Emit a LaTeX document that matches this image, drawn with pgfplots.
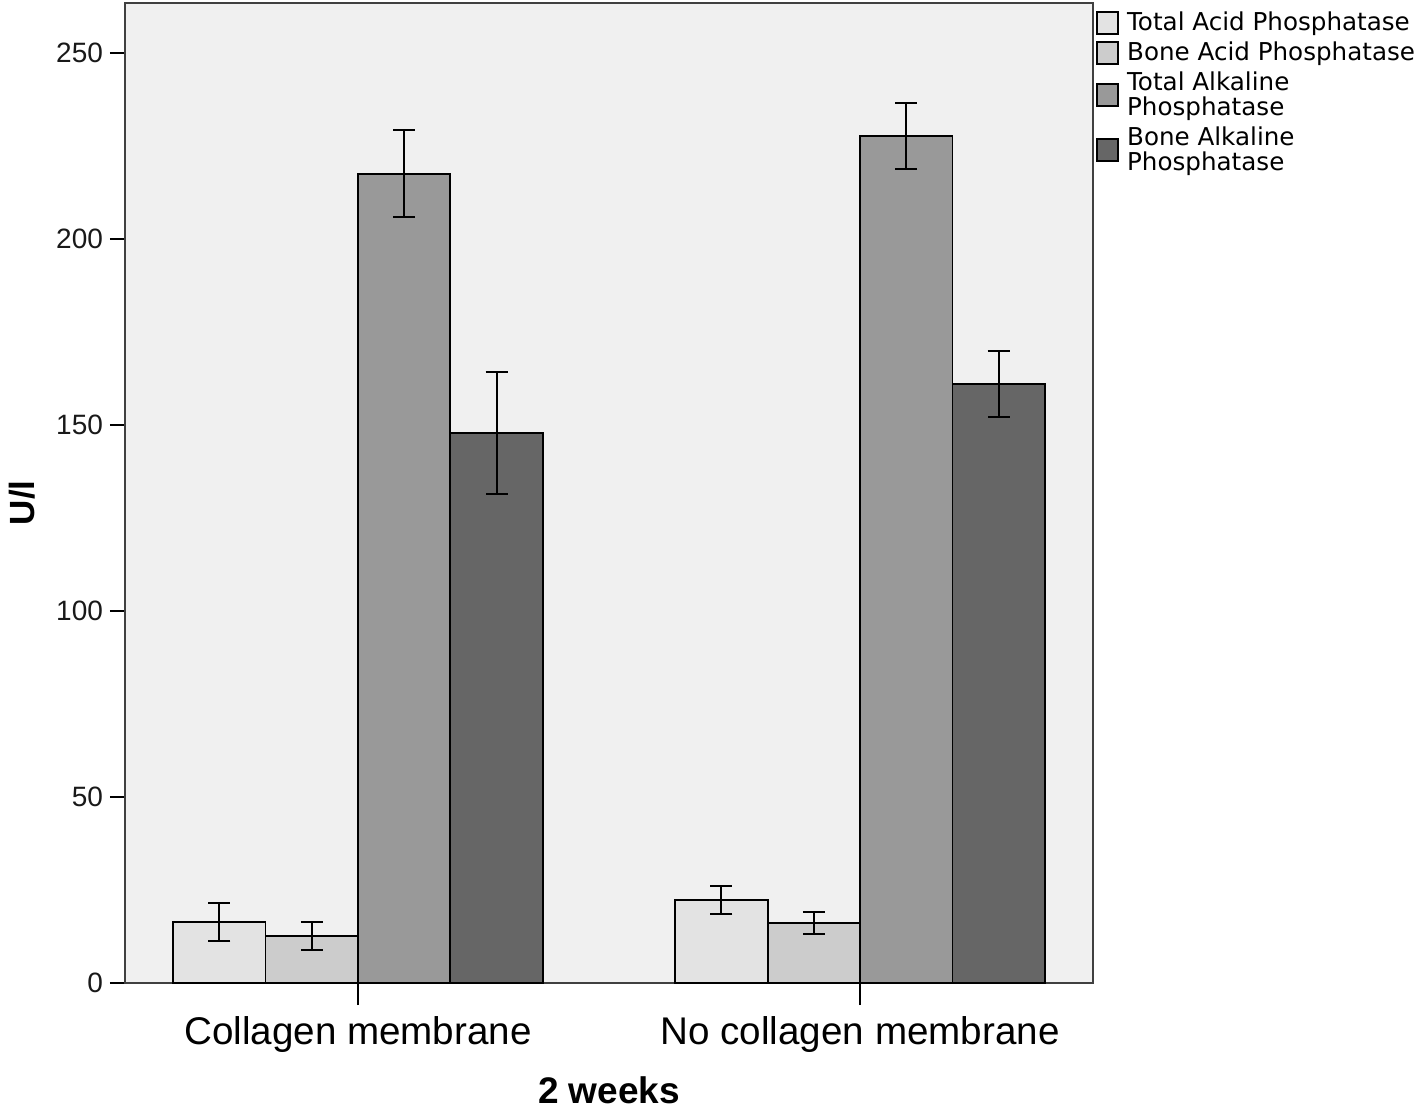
\documentclass[border=0pt]{standalone}
\usepackage{pgfplots}
\pgfplotsset{compat=1.18}
\usepackage{fontspec}
\setmainfont{Liberation Sans}
\newfontfamily\dejavu{DejaVu Sans}
\definecolor{bgc}{HTML}{F0F0F0}
\definecolor{cA}{HTML}{E3E3E3}
\definecolor{cB}{HTML}{CCCCCC}
\definecolor{cC}{HTML}{999999}
\definecolor{cD}{HTML}{666666}
\pgfplotsset{myerr/.style={error bars/.cd, y dir=both, y explicit,
    error bar style={black, line width=1pt},
    error mark options={black, line width=1pt, mark size=5.5pt, rotate=90}}}
\begin{document}
\begin{tikzpicture}
\path[use as bounding box] (-62.5pt,-63pt) rectangle (646.5pt,491.5pt);
\begin{axis}[
  scale only axis, width=484pt, height=490pt,
  xmin=-0.464, xmax=1.464, ymin=0, ymax=263.4,
  ybar=0pt, bar width=0.184,
  axis background/.style={fill=bgc},
  axis line style={draw=black!75, line width=0.8pt},
  xtick={0,1}, xticklabels={Collagen membrane, No collagen membrane},
  ytick={0,50,100,150,200,250},
  xtick pos=bottom, ytick pos=left, tick align=outside,
  major tick length=7.5pt,
  tick style={black, line width=0.9pt},
  xtick style={/pgfplots/major tick length=11pt},
  /pgf/number format/assume math mode=true,
  yticklabel style={font=\fontsize{14}{16}\selectfont, text=black!90},
  xticklabel style={font=\fontsize{19.3}{22}\selectfont, anchor=center, yshift=-18.5pt},
  xlabel={\textbf{2 weeks}}, ylabel={\textbf{U/l}},
  xlabel style={font=\fontsize{18.5}{22}\selectfont, at={(axis description cs:0.5,-0.109)}, anchor=center},
  ylabel style={font=\fontsize{17.5}{22}\selectfont, at={(axis description cs:-0.1064,0.49)}, anchor=center},
  legend style={at={(1.003,0.995)}, anchor=north west, draw=none, fill=none,
    font=\dejavu\fontsize{12.3}{12.5}\selectfont, cells={anchor=west, align=left},
    row sep=0pt, inner xsep=0pt, inner ysep=0pt},
  legend image code/.code={\draw[#1,draw=black,line width=0.9pt] (0pt,-5.5pt) rectangle (10.5pt,5.5pt);},
]
\addplot[fill=cA, draw=black, line width=0.9pt, myerr] coordinates {(0,16.4) +- (0,5.1) (1,22.3) +- (0,3.8)};
\addplot[fill=cB, draw=black, line width=0.9pt, myerr] coordinates {(0,12.6) +- (0,3.8) (1,16.1) +- (0,2.9)};
\addplot[fill=cC, draw=black, line width=0.9pt, myerr] coordinates {(0,217.5) +- (0,11.7) (1,227.7) +- (0,8.9)};
\addplot[fill=cD, draw=black, line width=0.9pt, myerr] coordinates {(0,147.8) +- (0,16.3) (1,161.0) +- (0,8.8)};
\addlegendentry{\hspace{2pt}Total Acid Phosphatase}
\addlegendentry{\hspace{2pt}Bone Acid Phosphatase}
\addlegendentry{\hspace{2pt}Total Alkaline\\\hspace{2pt}Phosphatase}
\addlegendentry{\hspace{2pt}Bone Alkaline\\\hspace{2pt}Phosphatase}
\end{axis}
\end{tikzpicture}
\end{document}
